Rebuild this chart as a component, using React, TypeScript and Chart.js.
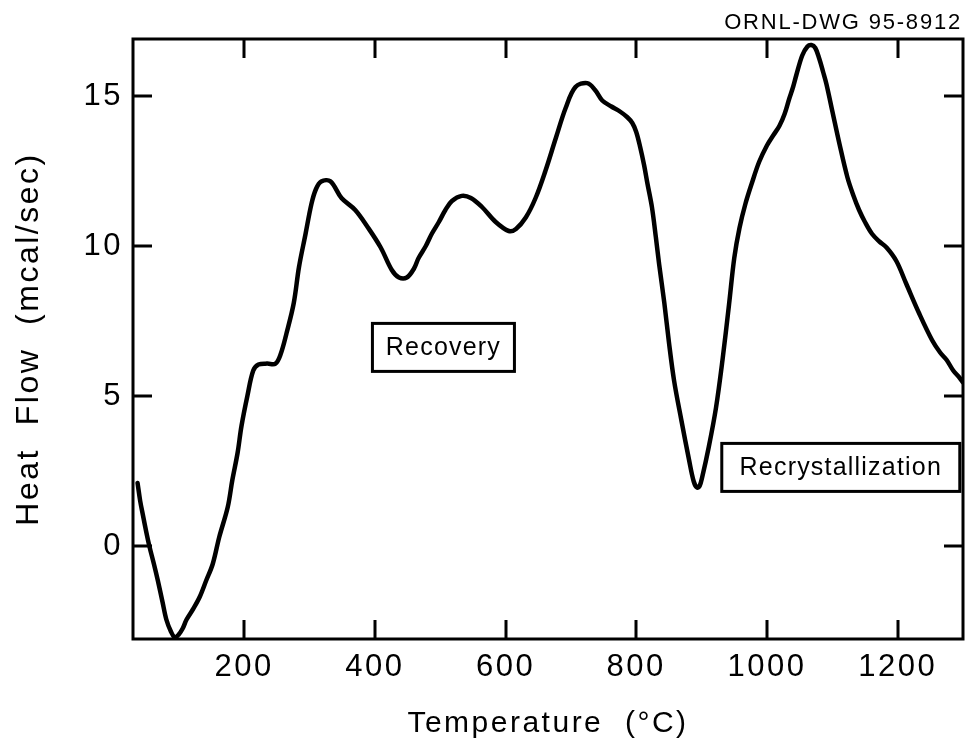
import React, { useEffect, useRef } from "react";
import { Chart, registerables } from "chart.js";

Chart.register(...registerables);

// DSC trace: temperature (°C) and measured heat flow (mcal/sec)
const TEMPERATURE = [
  37, 41, 45, 50, 55, 62, 68, 75, 81, 88,
  94, 100, 106, 112, 122, 132, 142, 152, 162, 175,
  182, 190, 196, 205, 214, 222, 235, 248, 256, 265,
  276, 284, 294, 303, 310, 318, 332, 349, 370, 390,
  409, 426, 437, 449, 460, 467, 478, 487, 498, 508,
  518, 533, 547, 564, 585, 605, 616, 631, 646, 661,
  677, 692, 707, 725, 737, 748, 762, 774, 786, 794,
  800, 806, 812, 817, 824, 830, 835, 843, 850, 858,
  869, 881, 888, 893, 897, 901, 911, 922, 932, 942,
  950, 958, 967, 977, 988, 1000, 1010, 1019, 1027, 1034,
  1040, 1045, 1054, 1062, 1068, 1074, 1080, 1086, 1091, 1100,
  1111, 1123, 1132, 1141, 1150, 1161, 1172, 1183, 1198, 1213,
  1233, 1253, 1265, 1275, 1285, 1295, 1300,
];

const HEAT_FLOW = [
  2.1, 1.5, 1.05, 0.5, 0.0, -0.6, -1.15, -1.85, -2.45, -2.85,
  -3.05, -2.95, -2.75, -2.45, -2.1, -1.7, -1.15, -0.6, 0.3, 1.3,
  2.2, 3.1, 4.0, 5.0, 5.85, 6.05, 6.08, 6.08, 6.4, 7.1,
  8.1, 9.3, 10.4, 11.4, 11.9, 12.15, 12.16, 11.6, 11.2, 10.6,
  9.95, 9.2, 8.95, 8.95, 9.25, 9.6, 10.0, 10.4, 10.8, 11.2,
  11.5, 11.67, 11.6, 11.3, 10.8, 10.5, 10.57, 10.95, 11.6, 12.5,
  13.6, 14.6, 15.3, 15.43, 15.2, 14.85, 14.65, 14.5, 14.3, 14.1,
  13.8, 13.3, 12.7, 12.1, 11.3, 10.3, 9.4, 8.1, 6.8, 5.5,
  4.2, 2.85, 2.15, 1.95, 2.0, 2.3, 3.3, 4.6, 6.2, 8.05,
  9.6, 10.6, 11.4, 12.1, 12.8, 13.35, 13.7, 14.0, 14.4, 14.9,
  15.3, 15.7, 16.35, 16.65, 16.7, 16.6, 16.25, 15.8, 15.4, 14.5,
  13.4, 12.3, 11.7, 11.2, 10.8, 10.4, 10.15, 9.95, 9.5, 8.75,
  7.75, 6.85, 6.45, 6.2, 5.85, 5.6, 5.45,
];

const X_TICKS = [200, 400, 600, 800, 1000, 1200];
const Y_TICKS = [0, 5, 10, 15];

const X_TITLE = "Temperature  (°C)";
const Y_TITLE = "Heat  Flow  (mcal/sec)";
const DRAWING_ID = "ORNL-DWG 95-8912";

const REGION_NAMES = ["Recovery", "Recrystallization"];

const FONT = "'Liberation Sans', Arial, Helvetica, sans-serif";

// boxed region labels, anchored in data units at their centres
const regionBoxes = [
  { name: REGION_NAMES[0], x: 505, y: 6.62, w: 142, h: 48 },
  { name: REGION_NAMES[1], x: 1113, y: 2.62, w: 238, h: 48 },
];

const TICK_LEN = 19;

const framePlugin = {
  id: "frame",
  beforeDraw(chart: any) {
    const ctx = chart.ctx;
    ctx.save();
    ctx.fillStyle = "#fff";
    ctx.fillRect(0, 0, chart.width, chart.height);
    ctx.restore();
    ctx.letterSpacing = "2.5px";
  },
  afterDraw(chart: any) {
    const { ctx, chartArea: a, scales } = chart;
    ctx.save();
    ctx.strokeStyle = "#000";
    ctx.lineWidth = 3;
    ctx.lineCap = "butt";
    ctx.strokeRect(a.left, a.top, a.right - a.left, a.bottom - a.top);

    ctx.beginPath();
    for (const v of X_TICKS) {
      const px = Math.round(scales.x.getPixelForValue(v));
      ctx.moveTo(px, a.bottom);
      ctx.lineTo(px, a.bottom - TICK_LEN);
      ctx.moveTo(px, a.top);
      ctx.lineTo(px, a.top + TICK_LEN);
    }
    for (const v of Y_TICKS) {
      const py = Math.round(scales.y.getPixelForValue(v));
      ctx.moveTo(a.left, py);
      ctx.lineTo(a.left + TICK_LEN, py);
      ctx.moveTo(a.right, py);
      ctx.lineTo(a.right - TICK_LEN, py);
    }
    ctx.stroke();

    // drawing number above the frame
    ctx.letterSpacing = "1.8px";
    ctx.fillStyle = "#000";
    ctx.font = `22px ${FONT}`;
    ctx.textAlign = "right";
    ctx.textBaseline = "alphabetic";
    ctx.fillText(DRAWING_ID, 962, 29);

    // region labels
    ctx.letterSpacing = "1.2px";
    ctx.font = `25px ${FONT}`;
    ctx.textAlign = "center";
    ctx.textBaseline = "middle";
    for (const b of regionBoxes) {
      const cx = scales.x.getPixelForValue(b.x);
      const cy = scales.y.getPixelForValue(b.y);
      ctx.fillStyle = "#fff";
      ctx.fillRect(cx - b.w / 2, cy - b.h / 2, b.w, b.h);
      ctx.strokeRect(cx - b.w / 2, cy - b.h / 2, b.w, b.h);
      ctx.fillStyle = "#000";
      ctx.fillText(b.name, cx, cy + 1);
    }
    ctx.restore();
    ctx.letterSpacing = "0px";
  },
};

export default function App() {
  const canvasRef = useRef<HTMLCanvasElement | null>(null);

  useEffect(() => {
    const canvas = canvasRef.current;
    if (!canvas) return;
    const points = TEMPERATURE.map((t, i) => ({ x: t, y: HEAT_FLOW[i] }));

    const chart = new Chart(canvas, {
      type: "line",
      data: {
        datasets: [
          {
            data: points,
            borderColor: "#000",
            borderWidth: 4.5,
            pointRadius: 0,
            tension: 0.35,
            fill: false,
            borderJoinStyle: "round",
            borderCapStyle: "round",
          },
        ],
      },
      options: {
        animation: false,
        responsive: false,
        devicePixelRatio: 1,
        layout: { padding: { top: 39, right: 3, left: 0, bottom: 0 } },
        plugins: {
          legend: { display: false },
          tooltip: { enabled: false },
          title: { display: false },
        },
        scales: {
          x: {
            type: "linear",
            min: 30,
            max: 1300,
            afterFit: (s: any) => {
              s.height = 108;
            },
            afterBuildTicks: (s: any) => {
              s.ticks = X_TICKS.map((v) => ({ value: v }));
            },
            grid: { display: false, drawTicks: false, tickLength: 0 },
            border: { display: false },
            ticks: {
              color: "#000",
              font: { family: FONT, size: 31 },
              padding: 10,
              maxRotation: 0,
              autoSkip: false,
              callback: (v: any) => String(v),
            },
            title: {
              display: true,
              text: X_TITLE,
              color: "#000",
              font: { family: FONT, size: 30 },
              padding: { top: 0, bottom: 5 },
            },
          },
          y: {
            type: "linear",
            min: -3.1,
            max: 16.9,
            afterFit: (s: any) => {
              s.width = 133;
            },
            afterBuildTicks: (s: any) => {
              s.ticks = Y_TICKS.map((v) => ({ value: v }));
            },
            grid: { display: false, drawTicks: false, tickLength: 0 },
            border: { display: false },
            ticks: {
              color: "#000",
              font: { family: FONT, size: 31 },
              padding: 10,
              autoSkip: false,
              callback: (v: any) => String(v),
            },
            title: {
              display: true,
              text: Y_TITLE,
              color: "#000",
              font: { family: FONT, size: 32 },
              padding: { top: 10, bottom: 0 },
            },
          },
        },
      },
      plugins: [framePlugin],
    } as any);

    return () => chart.destroy();
  }, []);

  return (
    <div
      style={{
        position: "fixed",
        left: 0,
        top: 0,
        width: 966,
        height: 747,
        background: "#fff",
      }}
    >
      <canvas ref={canvasRef} width={966} height={747} />
    </div>
  );
}
